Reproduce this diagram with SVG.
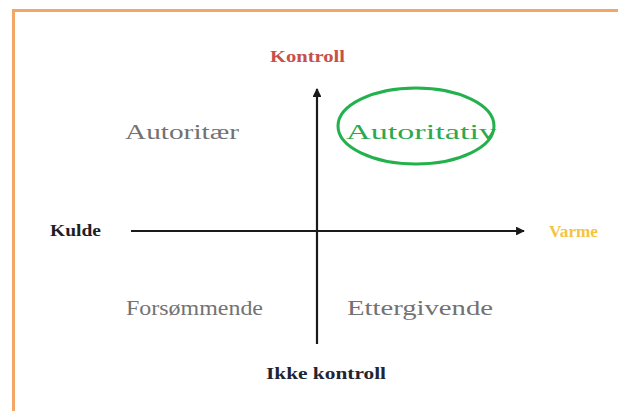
<svg xmlns="http://www.w3.org/2000/svg" width="618" height="411" viewBox="0 0 618 411">
<defs>
<style>
.q{font-family:"Liberation Serif",serif;font-size:22px;fill:#727272}
.b{font-family:"Liberation Serif",serif;font-weight:bold;font-size:16px}
.ax{stroke:#1a1a1a;stroke-width:2.2;fill:none}
</style>
<marker id="ah" viewBox="0 0 10 10" refX="9" refY="5" markerWidth="4" markerHeight="4" orient="auto" markerUnits="strokeWidth">
<path d="M0,0 L10,5 L0,10 Z" fill="#1a1a1a"/>
</marker>
</defs>
<rect width="618" height="411" fill="#ffffff"/>
<rect x="13.5" y="10.5" width="640" height="420" fill="none" stroke="#f2a766" stroke-width="3"/>
<g id="connectors">
<line class="ax" x1="317" y1="344" x2="317" y2="89" marker-end="url(#ah)"/>
<line class="ax" x1="131" y1="231" x2="524" y2="231" marker-end="url(#ah)"/>
</g>
<g id="kontroll"><text class="b" x="270" y="62" fill="#c8504a" textLength="75" lengthAdjust="spacingAndGlyphs">Kontroll</text></g>
<g id="ikke-kontroll"><text class="b" x="266" y="379" fill="#1f2533" textLength="120" lengthAdjust="spacingAndGlyphs">Ikke kontroll</text></g>
<g id="kulde"><text class="b" x="50" y="236" fill="#1f1f1f" textLength="51" lengthAdjust="spacingAndGlyphs">Kulde</text></g>
<g id="varme"><text class="b" x="549" y="237" fill="#f5c342" textLength="49" lengthAdjust="spacingAndGlyphs">Varme</text></g>
<g id="autoritaer"><text class="q" x="125" y="139" textLength="114" lengthAdjust="spacingAndGlyphs">Autoritær</text></g>
<g id="autoritativ">
<ellipse cx="416" cy="126" rx="78" ry="38" fill="none" stroke="#22b14c" stroke-width="3"/>
<text class="q" x="346" y="139" style="fill:#2ea84e" textLength="150" lengthAdjust="spacingAndGlyphs">Autoritativ</text>
</g>
<g id="forsommende"><text class="q" x="126" y="315" textLength="137" lengthAdjust="spacingAndGlyphs">Forsømmende</text></g>
<g id="ettergivende"><text class="q" x="347" y="315" textLength="146" lengthAdjust="spacingAndGlyphs">Ettergivende</text></g>
</svg>
